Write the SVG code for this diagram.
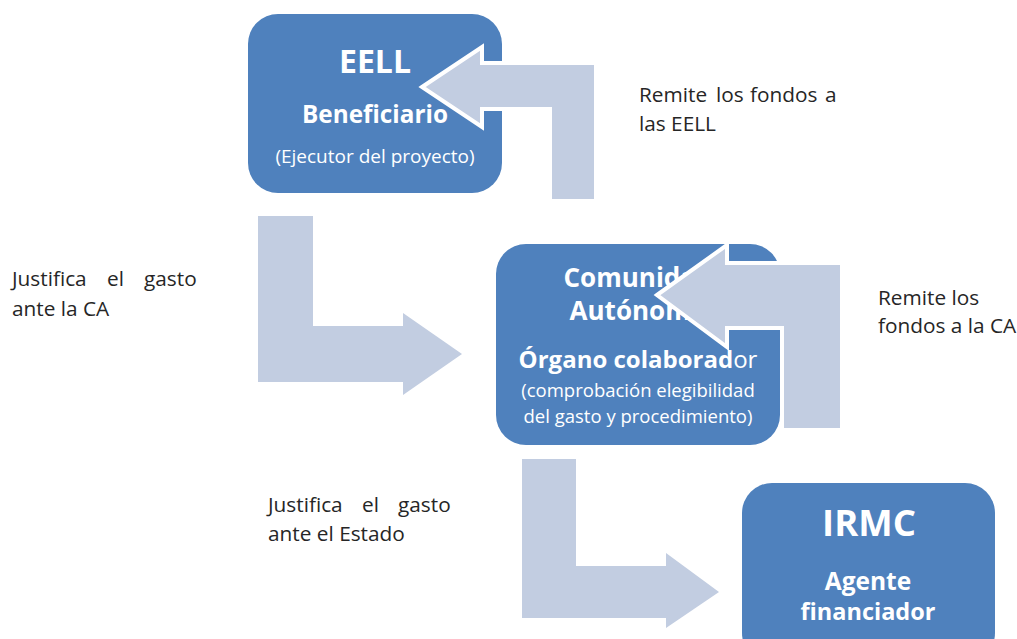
<svg xmlns="http://www.w3.org/2000/svg" width="1017" height="639" viewBox="0 0 1017 639">
<style>
.box{fill:#4F81BD}
.arr{fill:#C2CDE1}
.arrw{fill:#C2CDE1;stroke:#FFFFFF;stroke-width:4;stroke-linejoin:miter}
.t{font-family:"Open Sans","Noto Sans","Liberation Sans",sans-serif;fill:#FFFFFF;text-anchor:middle}
.b{font-weight:bold}
.lbl{font-family:"Open Sans","Noto Sans","Liberation Sans",sans-serif;fill:#262626;font-size:20.8px}
</style>
<rect width="1017" height="639" fill="#FFFFFF"/>
<g id="connectors">
<path class="arr" d="M258,216 L313,216 L313,326 L403,326 L403,313 L462,354 L403,395 L403,382 L258,382 Z"/>
<path class="arr" d="M522,459 L576,459 L576,566 L666,566 L666,553 L719,592 L666,628 L666,618 L522,618 Z"/>
</g>
<g id="node-eell">
<rect class="box" x="248" y="14" width="254" height="179" rx="30" ry="30"/>
<text class="t b" x="375" y="73" font-size="32">EELL</text>
<text class="t b" x="375" y="123" font-size="24.3">Beneficiario</text>
<text class="t" x="375" y="163" font-size="19">(Ejecutor del proyecto)</text>
</g>
<g id="node-ca">
<rect class="box" x="496" y="244" width="284" height="201" rx="30" ry="30"/>
<text class="t b" x="638" y="287" font-size="26">Comunidad</text>
<text class="t b" x="638" y="320" font-size="26">Autónoma</text>
<text class="t" x="638" y="368" font-size="24"><tspan class="b">Órgano colaborad</tspan>or</text>
<text class="t" x="638" y="397" font-size="18.5">(comprobación elegibilidad</text>
<text class="t" x="638" y="423" font-size="18.5">del gasto y procedimiento)</text>
</g>
<g id="node-irmc">
<rect class="box" x="742" y="483" width="253" height="180" rx="30" ry="30"/>
<text class="t b" x="869" y="536" font-size="36.5">IRMC</text>
<text class="t b" x="868" y="590" font-size="24.5">Agente</text>
<text class="t b" x="868" y="620" font-size="23.5">financiador</text>
</g>
<g id="connectors-over">
<path class="arrw" d="M422,87 L482,47 L482,63 L596,63 L596,201 L550,201 L550,109 L482,109 L482,127 Z"/>
<path class="arrw" d="M657,295 L727,245 L727,263 L842,263 L842,430 L782,430 L782,328 L727,328 L727,347 Z"/>
</g>
<g id="labels">
<text class="lbl" y="286"><tspan x="12">Justifica</tspan><tspan x="107">el</tspan><tspan x="144">gasto</tspan></text>
<text class="lbl" x="12" y="316">ante la CA</text>
<text class="lbl" y="102"><tspan x="639">Remite</tspan><tspan x="716">los</tspan><tspan x="750">fondos</tspan><tspan x="825">a</tspan></text>
<text class="lbl" x="639" y="131">las EELL</text>
<text class="lbl" x="878" y="305">Remite los</text>
<text class="lbl" x="878" y="333">fondos a la CA</text>
<text class="lbl" y="512"><tspan x="268">Justifica</tspan><tspan x="362">el</tspan><tspan x="398">gasto</tspan></text>
<text class="lbl" x="268" y="541">ante el Estado</text>
</g>
</svg>
